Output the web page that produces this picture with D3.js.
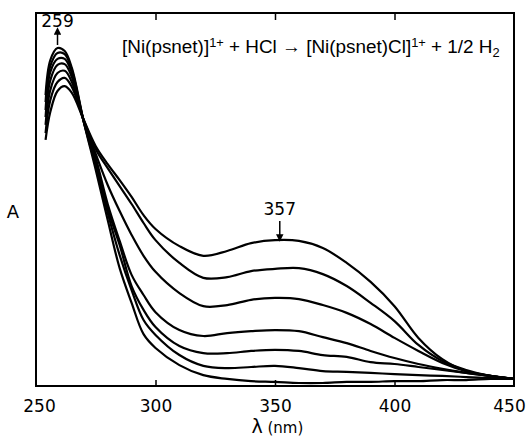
<!DOCTYPE html>
<html>
<head>
<meta charset="utf-8">
<script src="https://cdn.jsdelivr.net/npm/d3@7"></script>
<style>
  body { margin: 0; background: #fff; }
  svg { display: block; }
</style>
</head>
<body>
<div id="chart"></div>
<script>
// wavelengths (nm) shared by all spectra
const wavelengths = [254, 256, 259, 262, 265, 270, 275, 280, 285, 290, 295, 300, 310, 320, 330, 340, 350, 360, 370, 380, 390, 400, 410, 420, 430, 440, 450]

// absorbance (arbitrary units), first spectrum = highest at 357 nm
const spec0 = [0.660, 0.735, 0.791, 0.804, 0.786, 0.713, 0.643, 0.595, 0.552, 0.507, 0.458, 0.421, 0.375, 0.349, 0.362, 0.383, 0.391, 0.389, 0.370, 0.330, 0.279, 0.214, 0.129, 0.072, 0.040, 0.027, 0.019]
const spec1 = [0.678, 0.767, 0.815, 0.826, 0.802, 0.713, 0.635, 0.584, 0.536, 0.488, 0.437, 0.391, 0.330, 0.290, 0.292, 0.308, 0.314, 0.316, 0.300, 0.268, 0.223, 0.174, 0.110, 0.067, 0.043, 0.027, 0.019]
const spec2 = [0.700, 0.794, 0.839, 0.845, 0.815, 0.710, 0.622, 0.539, 0.469, 0.405, 0.349, 0.306, 0.249, 0.214, 0.217, 0.231, 0.236, 0.233, 0.217, 0.196, 0.166, 0.129, 0.094, 0.062, 0.040, 0.027, 0.019]
const spec3 = [0.721, 0.820, 0.861, 0.863, 0.828, 0.710, 0.611, 0.488, 0.389, 0.298, 0.244, 0.198, 0.150, 0.134, 0.142, 0.147, 0.150, 0.147, 0.131, 0.115, 0.094, 0.075, 0.059, 0.046, 0.035, 0.027, 0.019]
const spec4 = [0.740, 0.842, 0.877, 0.877, 0.839, 0.708, 0.601, 0.475, 0.378, 0.268, 0.204, 0.158, 0.107, 0.088, 0.088, 0.094, 0.097, 0.094, 0.083, 0.078, 0.064, 0.059, 0.051, 0.043, 0.035, 0.027, 0.019]
const spec5 = [0.761, 0.858, 0.893, 0.890, 0.847, 0.708, 0.590, 0.464, 0.351, 0.257, 0.177, 0.137, 0.083, 0.054, 0.048, 0.051, 0.054, 0.048, 0.040, 0.038, 0.035, 0.032, 0.029, 0.027, 0.024, 0.021, 0.019]
const spec6 = [0.780, 0.874, 0.906, 0.898, 0.853, 0.708, 0.579, 0.445, 0.316, 0.223, 0.139, 0.102, 0.056, 0.029, 0.019, 0.013, 0.011, 0.008, 0.008, 0.011, 0.011, 0.013, 0.013, 0.016, 0.016, 0.019, 0.019]

const spectra = [spec0, spec1, spec2, spec3, spec4, spec5, spec6]
const xTicks = [250, 300, 350, 400, 450]

const width = 528
const height = 437
const margin = { top: 13, right: 14, bottom: 51, left: 36 }

const svg = d3.select("#chart")
  .append("svg")
  .attr("width", width)
  .attr("height", height)

const x = d3.scaleLinear()
  .domain([250, 450])
  .range([margin.left, width - margin.right])

const y = d3.scaleLinear()
  .domain([0, 1])
  .range([height - margin.bottom, margin.top])

const line = d3.line()
  .x((d, i) => x(wavelengths[i]))
  .y(d => y(d))
  .curve(d3.curveCatmullRom.alpha(0.5))

// spectra
svg.append("g")
  .selectAll("path")
  .data(spectra)
  .join("path")
  .attr("d", line)
  .attr("fill", "none")
  .attr("stroke", "#000")
  .attr("stroke-width", 2.2)

// frame
svg.append("rect")
  .attr("x", x(250))
  .attr("y", y(1))
  .attr("width", x(450) - x(250))
  .attr("height", y(0) - y(1))
  .attr("fill", "none")
  .attr("stroke", "#000")
  .attr("stroke-width", 2)

// bottom axis, ticks pointing inward
const bottomAxis = svg.append("g")
  .attr("transform", `translate(0,${y(0)})`)
  .call(d3.axisBottom(x).tickValues(xTicks).tickSizeInner(-6).tickSizeOuter(0).tickPadding(14))
bottomAxis.select(".domain").remove()
bottomAxis.selectAll(".tick line")
  .attr("stroke-width", 1.5)
  .filter(d => d === 250 || d === 450).remove()
bottomAxis.selectAll(".tick text")
  .attr("font-family", "DejaVu Sans")
  .attr("font-size", 17)
  .attr("fill", "#000")
  .attr("dx", d => d === 250 ? 3 : d === 450 ? -5 : 0)

// top ticks
const topAxis = svg.append("g")
  .attr("transform", `translate(0,${y(1)})`)
  .call(d3.axisTop(x).tickValues([300, 350, 400]).tickSizeInner(-7).tickSizeOuter(0).tickFormat(""))
topAxis.select(".domain").remove()
topAxis.selectAll(".tick line").attr("stroke-width", 1.5)

// axis titles
const xt = svg.append("text")
  .attr("x", x(351))
  .attr("y", 433)
  .attr("text-anchor", "middle")
  .attr("font-family", "DejaVu Sans")
  .attr("fill", "#000")
xt.append("tspan").attr("font-size", 19).text("λ")
xt.append("tspan").attr("font-size", 15).text(" (nm)")

svg.append("text")
  .attr("x", 13)
  .attr("y", 218)
  .attr("text-anchor", "middle")
  .attr("font-family", "DejaVu Sans")
  .attr("font-size", 18)
  .attr("fill", "#000")
  .text("A")

// reaction title, sized to span the same width as the original
const title = svg.append("text")
  .attr("x", 122)
  .attr("y", 53)
  .attr("font-family", "Liberation Sans, Arial, sans-serif")
  .attr("font-size", 16)
  .attr("fill", "#000")
title.append("tspan").text("[Ni(psnet)]")
title.append("tspan").attr("font-size", "68%").attr("dy", "-0.45em").text("1+")
title.append("tspan").attr("dy", "0.31em").text(" + HCl \u2192 [Ni(psnet)Cl]")
title.append("tspan").attr("font-size", "68%").attr("dy", "-0.45em").text("1+")
title.append("tspan").attr("dy", "0.31em").text(" + 1/2 H")
title.append("tspan").attr("font-size", "68%").attr("dy", "0.3em").text("2")
const titleW = title.node().getComputedTextLength()
title.attr("font-size", 16 * 378 / titleW)

// peak annotations with arrows
const annotations = [
  { label: "259", wl: 259, textY: 27, from: 45, to: 31 },
  { label: "357", wl: 352, textY: 215, from: 221, to: 238 }
]

svg.append("defs").append("marker")
  .attr("id", "head")
  .attr("viewBox", "0 0 10 10")
  .attr("refX", 5).attr("refY", 5)
  .attr("markerWidth", 5).attr("markerHeight", 5)
  .attr("orient", "auto")
  .append("path")
  .attr("d", "M0,0 L10,5 L0,10 z")
  .attr("fill", "#000")

annotations.forEach(a => {
  svg.append("text")
    .attr("x", x(a.wl))
    .attr("y", a.textY)
    .attr("text-anchor", "middle")
    .attr("font-family", "DejaVu Sans")
    .attr("font-size", 17)
    .attr("fill", "#000")
    .text(a.label)
  svg.append("line")
    .attr("x1", x(a.wl)).attr("y1", a.from)
    .attr("x2", x(a.wl)).attr("y2", a.to)
    .attr("stroke", "#000")
    .attr("stroke-width", 1.5)
    .attr("marker-end", "url(#head)")
})
</script>
</body>
</html>
